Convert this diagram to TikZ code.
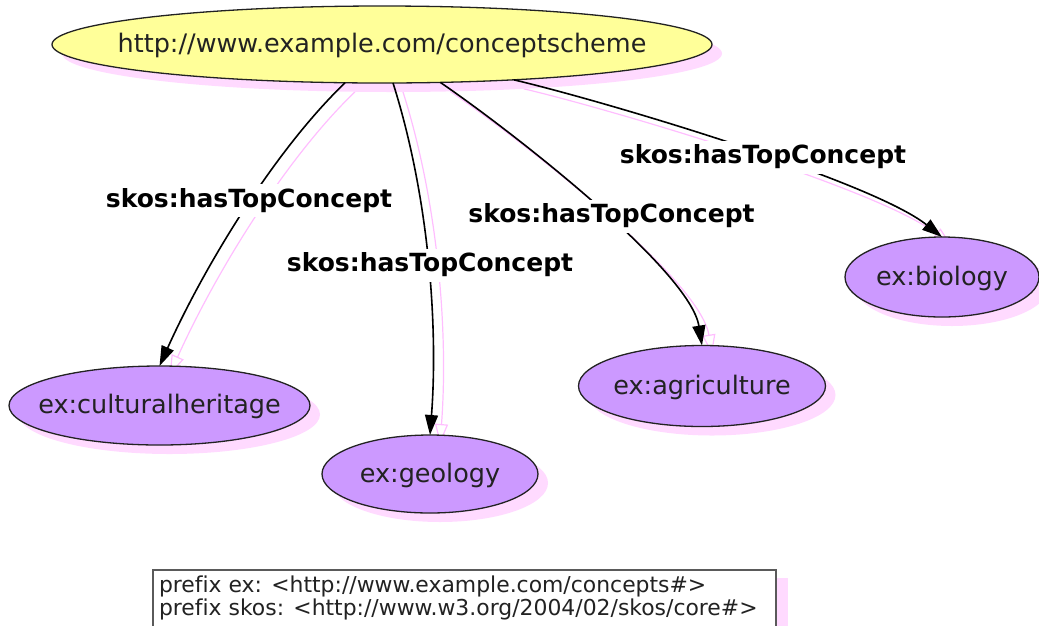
\documentclass[tikz,border=0pt]{standalone}
\usepackage{fontspec}
\setmainfont{DejaVu Sans}[Ligatures=NoCommon]
\usetikzlibrary{shapes.geometric,shadows,arrows.meta}
\pgfdeclarelayer{edgeshadow}
\pgfsetlayers{edgeshadow,main}
\definecolor{topfill}{RGB}{255,255,153}
\definecolor{conceptfill}{RGB}{204,153,255}
\definecolor{shpink}{RGB}{255,218,255}
\definecolor{edgepink}{RGB}{255,190,255}
\definecolor{inkgray}{RGB}{34,34,34}
\definecolor{boxgray}{RGB}{90,90,90}
\newcommand{\ztext}[1]{\makebox[0pt][c]{#1}}
\newcommand{\skosedge}[4]{%
  \begin{pgfonlayer}{edgeshadow}
    \draw[edgesh, transform canvas={shift={(10pt,-9pt)}}] (#1) .. controls #2 and #3 .. (#4);
  \end{pgfonlayer}
  \draw[skosline] (#1) .. controls #2 and #3 .. (#4);
}
\tikzset{
  ell/.style={ellipse, draw=inkgray, line width=1.3pt, inner sep=0pt, outer sep=0pt,
    font=\fontsize{25.5}{30}\selectfont, text=inkgray, text height=19pt, text depth=3pt,
    drop shadow={shadow xshift=10pt, shadow yshift=-9pt, fill=shpink, draw=none, opacity=1}},
  topnode/.style={ell, fill=topfill},
  concept/.style={ell, fill=conceptfill},
  skosline/.style={draw=black, line width=1.6pt, -{Triangle[length=20pt,width=13pt]}},
  edgesh/.style={draw=edgepink, line width=1.2pt, -{Triangle[length=20pt,width=13pt,open]}},
  lbl/.style={fill=white, inner xsep=3pt, inner ysep=5pt, text=black,
    font=\fontsize{25}{30}\selectfont\bfseries, text height=18pt, text depth=5pt},
  prefixbox/.style={draw=boxgray, line width=1.5pt, fill=white, inner xsep=6pt, inner ysep=6pt,
    outer sep=0pt, font=\fontsize{21.9}{23}\selectfont, text=inkgray,
    drop shadow={shadow xshift=12pt, shadow yshift=-8pt, fill=shpink, draw=none, opacity=1}}
}
\begin{document}
\begin{tikzpicture}[x=1pt,y=-1pt]
\useasboundingbox (0,0) rectangle (1039,625);

\node[topnode, minimum width=660pt, minimum height=77pt] (scheme) at (382,44.5)
  {\ztext{http://www.example.com/conceptscheme}};
\node[concept, minimum width=301pt, minimum height=79pt] (cult) at (159.5,405.5)
  {\ztext{ex:culturalheritage}};
\node[concept, minimum width=216pt, minimum height=78pt] (geo) at (430,474)
  {\ztext{ex:geology}};
\node[concept, minimum width=247pt, minimum height=81pt] (agri) at (702,386)
  {\ztext{ex:agriculture}};
\node[concept, minimum width=194pt, minimum height=80pt] (bio) at (942,277)
  {\ztext{ex:biology}};

\skosedge{scheme.-134}{(275,150)}{(205,265)}{cult.north}
\skosedge{scheme.-74}{(430,200)}{(438,330)}{geo.north}
\skosedge{scheme.-33}{(510,130)}{(690,270)}{agri.north}
\skosedge{scheme.-15}{(600,100)}{(870,180)}{bio.north}

\node[lbl] (l1) at (249,200.5) {skos:hasTopConcept};
\node[lbl] (l2) at (430,265) {skos:hasTopConcept};
\node[lbl] (l3) at (611.5,216) {skos:hasTopConcept};
\node[lbl] (l4) at (763,157) {skos:hasTopConcept};

\node[prefixbox, anchor=north west] (prefixes) at (153,570)
  {\parbox[c][70pt][t]{611pt}{\raggedright prefix ex: <http://www.example.com/concepts\#>\\
   prefix skos: <http://www.w3.org/2004/02/skos/core\#>}};
\end{tikzpicture}
\end{document}
